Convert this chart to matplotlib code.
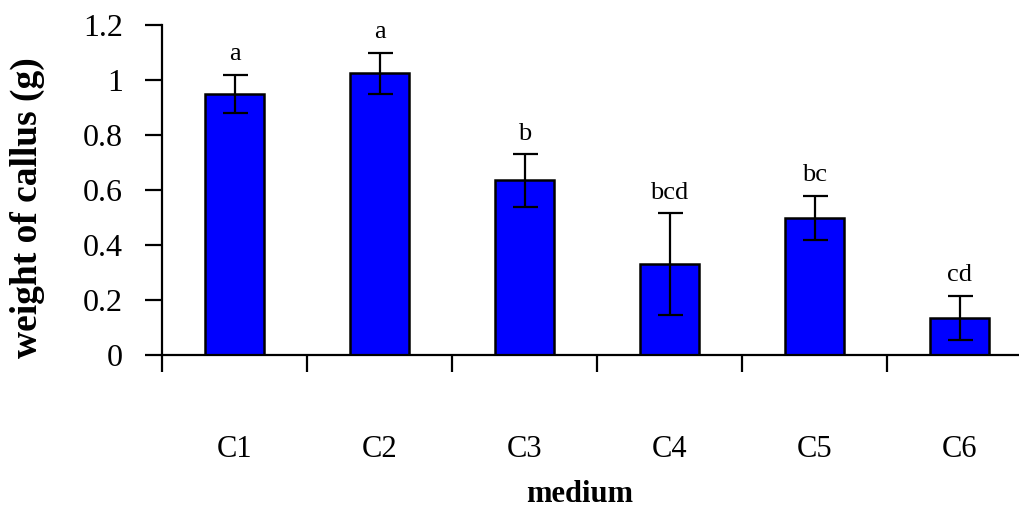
import matplotlib
matplotlib.use("Agg")
import matplotlib.pyplot as plt

# datos
categories = ["C1", "C2", "C3", "C4", "C5", "C6"]
weights = [0.95, 1.025, 0.635, 0.33, 0.50, 0.135]
errors = [0.07, 0.075, 0.095, 0.185, 0.08, 0.08]
letters = ["a", "a", "b", "bcd", "bc", "cd"]

plt.rcParams["font.family"] = ["Liberation Serif", "DejaVu Serif"]

fig = plt.figure(figsize=(10.19, 5.11), dpi=100)
ax = fig.add_axes([162 / 1019, 1 - 355 / 511, 870 / 1019, 330 / 511])

x = list(range(len(categories)))
ax.bar(x, weights, width=0.41, color="#0000ff", edgecolor="black", linewidth=1.8,
       yerr=errors, error_kw=dict(ecolor="black", elinewidth=1.6, capsize=9, capthick=1.6))

for i, (w, e, lab) in enumerate(zip(weights, errors, letters)):
    ax.annotate(lab, (i, w + e), xytext=(0, 7), textcoords="offset points",
                ha="center", va="bottom", fontsize=19)

ax.set_xlim(-0.5, 5.5)
ax.set_ylim(0, 1.2)
ax.set_yticks([0, 0.2, 0.4, 0.6, 0.8, 1.0, 1.2])
ax.set_yticklabels(["0", "0.2", "0.4", "0.6", "0.8", "1", "1.2"], fontsize=23)
ax.set_xticks([i - 0.5 for i in range(len(categories) + 1)])
ax.set_xticklabels([])
ax.tick_params(axis="x", direction="out", length=12, width=1.6)
ax.tick_params(axis="y", direction="out", length=12, width=1.6, pad=16)

for i, c in enumerate(categories):
    ax.text(i, -0.342, c, ha="center", va="center", fontsize=22,
            transform=ax.transData, clip_on=False)

for s in ["top", "right"]:
    ax.spines[s].set_visible(False)
ax.spines["left"].set_linewidth(1.6)
ax.spines["bottom"].set_linewidth(1.6)

fig.text(580 / 1019, 1 - 494 / 511, "medium", ha="center", va="center",
         fontsize=22, fontweight="bold")
fig.text(27 / 1019, 1 - 208 / 511, "weight of callus (g)", ha="center", va="center",
         fontsize=27, fontweight="bold", rotation=90)

fig.savefig("out.png", dpi=100)
plt.close()
